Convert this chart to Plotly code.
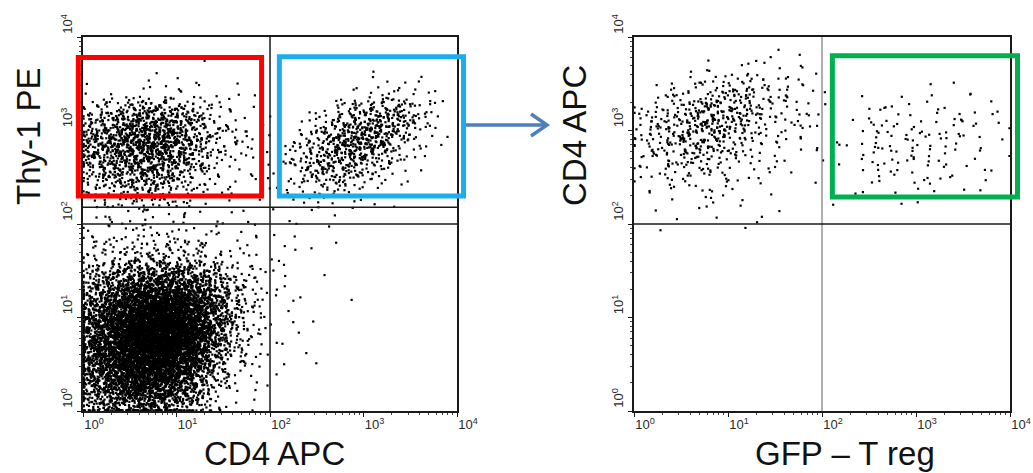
import plotly.graph_objects as go

# ---------------- data ----------------
TICK_VALUES = [1, 10, 100, 1000, 10000]
TICK_LABELS = ["10<sup>0</sup>", "10<sup>1</sup>", "10<sup>2</sup>", "10<sup>3</sup>", "10<sup>4</sup>"]
MINOR_VALUES = [m * 10 ** k for k in range(4) for m in range(2, 10)]

LEFT_X_TITLE = "CD4 APC"
LEFT_Y_TITLE = "Thy-1 PE"
RIGHT_X_TITLE = "GFP – T reg"
RIGHT_Y_TITLE = "CD4 APC"

# event counts per quarter-decade cell (log10 0..4 on both axes)
# rows: top (10^3.75-10^4) -> bottom (10^0-10^0.25); columns: 10^0 -> 10^4
LEFT_COUNTS = [
    [0, 0, 0, 0, 0, 1, 0, 0, 0, 0, 0, 0, 0, 0, 0, 0],
    [0, 0, 0, 1, 1, 0, 0, 0, 0, 0, 0, 0, 1, 0, 0, 0],
    [2, 4, 6, 8, 5, 3, 2, 1, 0, 0, 0, 3, 9, 14, 8, 1],
    [40, 70, 105, 110, 62, 22, 8, 3, 0, 3, 16, 52, 90, 65, 18, 2],
    [85, 130, 180, 160, 90, 30, 13, 4, 3, 20, 65, 115, 90, 32, 6, 0],
    [58, 90, 120, 100, 52, 18, 8, 3, 6, 32, 65, 58, 26, 8, 1, 0],
    [18, 34, 44, 38, 18, 7, 3, 1, 3, 13, 19, 13, 5, 1, 0, 0],
    [4, 5, 5, 5, 4, 3, 2, 2, 2, 1, 1, 1, 1, 0, 0, 0],
    [8, 10, 12, 12, 10, 7, 4, 2, 3, 1, 1, 0, 0, 0, 0, 0],
    [20, 26, 34, 38, 30, 18, 10, 4, 3, 1, 0, 0, 0, 0, 0, 0],
    [70, 110, 175, 200, 160, 90, 30, 10, 3, 1, 1, 0, 0, 0, 0, 0],
    [140, 260, 420, 470, 370, 170, 45, 10, 3, 1, 0, 1, 0, 0, 0, 0],
    [190, 340, 560, 620, 470, 180, 38, 8, 2, 0, 1, 0, 0, 0, 0, 0],
    [200, 340, 530, 570, 370, 120, 24, 5, 2, 1, 0, 0, 0, 0, 0, 0],
    [150, 250, 370, 350, 200, 52, 10, 3, 1, 1, 0, 0, 0, 0, 0, 0],
    [90, 140, 180, 155, 82, 20, 4, 2, 0, 0, 0, 0, 0, 0, 0, 0],
]

RIGHT_COUNTS = [
    [0, 0, 0, 0, 0, 1, 1, 0, 0, 0, 0, 0, 0, 0, 0, 0],
    [0, 0, 2, 4, 6, 5, 5, 3, 0, 0, 0, 0, 0, 0, 0, 0],
    [3, 8, 16, 28, 34, 20, 10, 6, 0, 1, 1, 2, 2, 1, 2, 1],
    [12, 28, 48, 62, 42, 16, 10, 6, 0, 3, 6, 7, 6, 7, 5, 3],
    [15, 32, 46, 40, 19, 8, 6, 4, 2, 5, 8, 9, 8, 7, 5, 2],
    [8, 15, 20, 15, 8, 4, 3, 2, 2, 4, 6, 8, 7, 5, 3, 1],
    [3, 5, 6, 6, 3, 2, 1, 0, 1, 2, 3, 3, 3, 2, 1, 0],
    [0, 2, 1, 3, 2, 2, 1, 0, 0, 0, 0, 0, 0, 0, 0, 0],
    [0] * 16, [0] * 16, [0] * 16, [0] * 16,
    [0] * 16, [0] * 16, [0] * 16, [0] * 16,
]

# quadrant / gate thresholds
LEFT_QUAD_X = 100
LEFT_QUAD_Y = [100, 151]
RIGHT_QUAD_X = 100
RIGHT_QUAD_Y = 100
# gates in log10 units ((x0, x1), (y0, y1))
GATE_RED = ((-0.05, 1.91), (2.30, 3.78))
GATE_BLUE = ((2.10, 4.07), (2.30, 3.79))
GATE_GREEN = ((2.11, 4.08), (2.29, 3.80))

# ---------------- rendering ----------------
FONT = "Liberation Sans, Arial, sans-serif"
W, H = 1033, 473


def px(x):  # page pixel -> paper x
    return x / W


def py(y):  # page pixel -> paper y
    return 1 - y / H


def radical_inverse(n, b):
    f, r = 1.0, 0.0
    while n > 0:
        f /= b
        r += f * (n % b)
        n //= b
    return r


def events(grid, cell=0.25):
    """dot-density rendering: each cell's events placed by a Halton sequence."""
    xs, ys = [], []
    nrow = len(grid)
    n = 0
    for r, row in enumerate(grid):
        j = nrow - 1 - r
        for i, c in enumerate(row):
            for _ in range(c):
                n += 1
                u1, v1, u2, v2 = (radical_inverse(n, b) for b in (2, 3, 5, 7))
                lx = (i + 0.5 + (u1 + u2 - 1.0)) * cell
                ly = (j + 0.5 + (v1 + v2 - 1.0)) * cell
                lx = min(max(lx, 0.006), 3.994)
                ly = min(max(ly, 0.006), 3.994)
                xs.append(10 ** lx)
                ys.append(10 ** ly)
    return xs, ys


lx, ly = events(LEFT_COUNTS)
rx, ry = events(RIGHT_COUNTS)

fig = go.Figure()
dot = dict(size=2.2, symbol="square", color="#000000", line=dict(width=0))
fig.add_trace(go.Scatter(x=lx, y=ly, mode="markers", marker=dot, xaxis="x", yaxis="y",
                         hoverinfo="skip"))
fig.add_trace(go.Scatter(x=rx, y=ry, mode="markers", marker=dot, xaxis="x2", yaxis="y2",
                         hoverinfo="skip"))

ydom = [py(411), py(37)]


def axis_common():
    return dict(
        type="log", range=[0, 4], showgrid=False, zeroline=False, automargin=False,
        showline=True, mirror=True, linecolor="#1a1a1a", linewidth=1.5,
        ticks="outside", ticklen=4, tickwidth=1.2, tickcolor="#1a1a1a",
        tickvals=TICK_VALUES, ticktext=TICK_LABELS,
        tickfont=dict(family=FONT, size=13, color="#2a2a2a"),
        minor=dict(tickvals=MINOR_VALUES, ticks="outside", ticklen=2, tickwidth=1, tickcolor="#444"),
    )


xa = axis_common(); xa.update(domain=[px(83), px(457)], anchor="y", ticklabelshift=11, ticklabelstandoff=-3)
ya = axis_common(); ya.update(domain=ydom, anchor="x", tickangle=-90, ticklabelshift=-11)
xa2 = axis_common(); xa2.update(domain=[px(634), px(1010)], anchor="y2", ticklabelshift=11, ticklabelstandoff=-3)
ya2 = axis_common(); ya2.update(domain=ydom, anchor="x2", tickangle=-90, ticklabelshift=-11)

shapes = []
# quadrant lines
shapes.append(dict(type="line", xref="x", yref="y domain", x0=LEFT_QUAD_X, x1=LEFT_QUAD_X, y0=0, y1=1,
                   line=dict(color="#1a1a1a", width=1.5)))
for yq in LEFT_QUAD_Y:
    shapes.append(dict(type="line", xref="x domain", yref="y", x0=0, x1=1, y0=yq, y1=yq,
                       line=dict(color="#1a1a1a", width=1.5)))
shapes.append(dict(type="line", xref="x2", yref="y2 domain", x0=RIGHT_QUAD_X, x1=RIGHT_QUAD_X, y0=0, y1=1,
                   line=dict(color="#7a7a7a", width=1.2)))
shapes.append(dict(type="line", xref="x2 domain", yref="y2", x0=0, x1=1, y0=RIGHT_QUAD_Y, y1=RIGHT_QUAD_Y,
                   line=dict(color="#1a1a1a", width=1.5)))


def gate(g, xr, yr, color):
    (x0, x1), (y0, y1) = g
    return dict(type="rect", xref=xr + " domain", yref=yr + " domain",
                x0=x0 / 4, x1=x1 / 4, y0=y0 / 4, y1=y1 / 4,
                line=dict(color=color, width=5), fillcolor="rgba(0,0,0,0)", layer="above")


shapes.append(gate(GATE_RED, "x", "y", "#FF0000"))
shapes.append(gate(GATE_BLUE, "x", "y", "#1AAEEA"))
shapes.append(gate(GATE_GREEN, "x2", "y2", "#00B050"))

# arrow between panels (paper coordinates)
arrow_col = "#4F7FBD"
shapes.append(dict(type="line", xref="paper", yref="paper", x0=px(466), x1=px(546), y0=py(125), y1=py(125),
                   line=dict(color=arrow_col, width=3.5)))
shapes.append(dict(type="path", xref="paper", yref="paper",
                   path=f"M {px(531)},{py(114)} L {px(547)},{py(125)} L {px(531)},{py(136)}",
                   line=dict(color=arrow_col, width=3.5)))

ann = []
tf = dict(family=FONT, size=33, color="#111111")
ann.append(dict(text=LEFT_Y_TITLE, x=px(29), y=py(136), xref="paper", yref="paper", textangle=-90,
                showarrow=False, font=tf, xanchor="center", yanchor="middle"))
ann.append(dict(text=LEFT_X_TITLE, x=px(274), y=py(453), xref="paper", yref="paper",
                showarrow=False, font=tf, xanchor="center", yanchor="middle"))
ann.append(dict(text=RIGHT_Y_TITLE, x=px(575), y=py(136), xref="paper", yref="paper", textangle=-90,
                showarrow=False, font=tf, xanchor="center", yanchor="middle"))
ann.append(dict(text=RIGHT_X_TITLE, x=px(845), y=py(453), xref="paper", yref="paper",
                showarrow=False, font=tf, xanchor="center", yanchor="middle"))

fig.update_layout(
    width=W, height=H, margin=dict(l=0, r=0, t=0, b=0, autoexpand=False),
    paper_bgcolor="white", plot_bgcolor="white", showlegend=False,
    xaxis=xa, yaxis=ya, xaxis2=xa2, yaxis2=ya2,
    shapes=shapes, annotations=ann,
)

fig.write_html("out.html")
